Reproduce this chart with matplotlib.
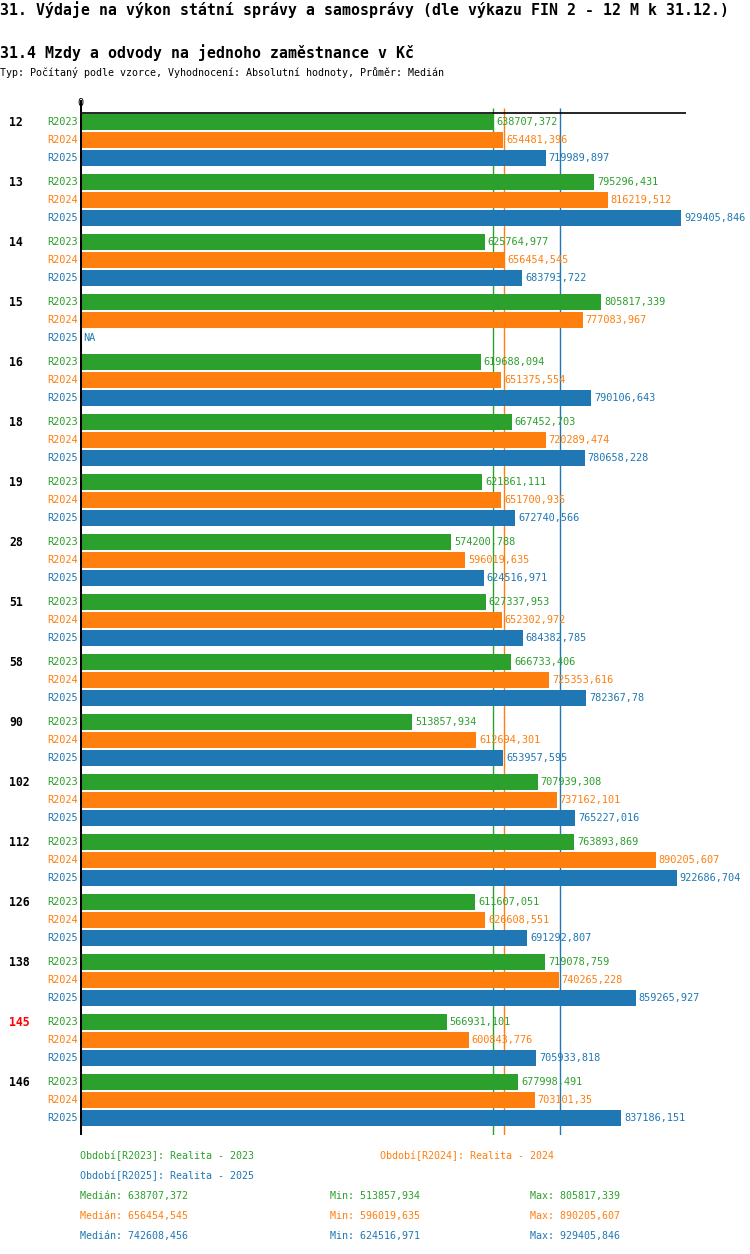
import numpy as np
import matplotlib
matplotlib.use("Agg")
import matplotlib.pyplot as plt
import matplotlib.transforms as mtransforms

# ---------------- data ----------------
groups = ["12", "13", "14", "15", "16", "18", "19", "28", "51", "58",
          "90", "102", "112", "126", "138", "145", "146"]
series = ["R2023", "R2024", "R2025"]
r2023 = [638707.372, 795296.431, 625764.977, 805817.339, 619688.094, 667452.703,
         621861.111, 574200.788, 627337.953, 666733.406, 513857.934, 707939.308,
         763893.869, 611607.051, 719078.759, 566931.101, 677998.491]
r2024 = [654481.396, 816219.512, 656454.545, 777083.967, 651375.554, 720289.474,
         651700.935, 596019.635, 652302.972, 725353.616, 612694.301, 737162.101,
         890205.607, 626608.551, 740265.228, 600843.776, 703101.35]
r2025 = [719989.897, 929405.846, 683793.722, None, 790106.643, 780658.228,
         672740.566, 624516.971, 684382.785, 782367.78, 653957.595, 765227.016,
         922686.704, 691292.807, 859265.927, 705933.818, 837186.151]
highlight_group = "145"
period_labels = ["Období[R2023]: Realita - 2023",
                 "Období[R2024]: Realita - 2024",
                 "Období[R2025]: Realita - 2025"]
medians = ["638707,372", "656454,545", "742608,456"]
median_vals = [638707.372, 656454.545, 742608.456]
mins = ["513857,934", "596019,635", "624516,971"]
maxs = ["805817,339", "890205,607", "929405,846"]
title = "31. Výdaje na výkon státní správy a samosprávy (dle výkazu FIN 2 - 12 M k 31.12.)"
subtitle = "31.4 Mzdy a odvody na jednoho zaměstnance v Kč"
info = "Typ: Počítaný podle vzorce, Vyhodnocení: Absolutní hodnoty, Průměr: Medián"

colors = ["#2ca02c", "#ff7f0e", "#1f77b4"]
values = [r2023, r2024, r2025]

# ---------------- layout ----------------
W, H = 750, 1254
FONT = "DejaVu Sans Mono"
plt.rcParams["font.family"] = [FONT, "DejaVu Sans"]
fig = plt.figure(figsize=(W / 100, H / 100), dpi=100)
fig.patch.set_facecolor("white")

px = mtransforms.Affine2D().scale(1, -1).translate(0, H)  # pixel coords, origin top-left

ax_left, ax_right = 80, 686
ax_top, ax_bot = 100, 1135
ax = fig.add_axes([ax_left / W, 1 - ax_bot / H, (ax_right - ax_left) / W, (ax_bot - ax_top) / H])
scale = 601 / 929405.846  # px per unit
ax.set_xlim(0, (ax_right - ax_left) / scale)
ax.set_ylim(ax_bot, ax_top)
ax.axis("off")

first_center, group_step, bar_step, bar_h = 122, 60, 18, 16

# median lines behind bars
for m, c in zip(median_vals, colors):
    ax.vlines(m, 108, ax_bot, color=c, lw=1, zorder=1)

ax.axhline(113, color="black", lw=1.2, zorder=3)
ax.axvline(0, color="black", lw=2.2, zorder=4)

val_off = ax.transData + mtransforms.ScaledTranslation(3 / 100, 0, fig.dpi_scale_trans)
lab_tr = mtransforms.blended_transform_factory(ax.transAxes, ax.transData) + \
    mtransforms.ScaledTranslation(-2 / 100, 0, fig.dpi_scale_trans)
grp_tr = mtransforms.blended_transform_factory(px, ax.transData)

SMALL = 7.4
for gi, g in enumerate(groups):
    gy = first_center + gi * group_step
    ax.text(9, gy, g, transform=grp_tr, ha="left", va="center", fontsize=8.3,
            fontweight="bold", color="red" if g == highlight_group else "black",
            family=FONT)
    for si, (s, vals, c) in enumerate(zip(series, values, colors)):
        y = gy + si * bar_step
        v = vals[gi]
        ax.text(0, y, s, transform=lab_tr, ha="right", va="center", fontsize=SMALL,
                color=c, family=FONT)
        if v is None:
            ax.text(0, y, "NA", transform=val_off, ha="left", va="center",
                    fontsize=SMALL, color=c, family=FONT, zorder=5)
            continue
        ax.barh(y, v, height=bar_h, color=c, zorder=2)
        ax.text(v, y, repr(v).replace(".", ","), transform=val_off, ha="left",
                va="center", fontsize=SMALL, color=c, family=FONT, zorder=5)

# zero label
fig.text(80, 103, "0", transform=px, ha="center", va="center", fontsize=SMALL,
         family=FONT)

# titles
fig.text(0, 10, title, transform=px, ha="left", va="center", fontsize=10.75,
         fontweight="bold", family=FONT)
fig.text(0, 53, subtitle, transform=px, ha="left", va="center", fontsize=10.75,
         fontweight="bold", family=FONT)
fig.text(0, 73, info, transform=px, ha="left", va="center", fontsize=7.2,
         family=FONT)

# legend / summary
fig.text(80, 1156, period_labels[0], transform=px, ha="left", va="center",
         fontsize=7.2, color=colors[0], family=FONT)
fig.text(380, 1156, period_labels[1], transform=px, ha="left", va="center",
         fontsize=7.2, color=colors[1], family=FONT)
fig.text(80, 1176, period_labels[2], transform=px, ha="left", va="center",
         fontsize=7.2, color=colors[2], family=FONT)
for i, c in enumerate(colors):
    yy = 1196 + 20 * i
    fig.text(80, yy, "Medián: " + medians[i], transform=px, ha="left", va="center",
             fontsize=7.2, color=c, family=FONT)
    fig.text(330, yy, "Min: " + mins[i], transform=px, ha="left", va="center",
             fontsize=7.2, color=c, family=FONT)
    fig.text(530, yy, "Max: " + maxs[i], transform=px, ha="left", va="center",
             fontsize=7.2, color=c, family=FONT)

fig.savefig("out.png", dpi=100, facecolor="white")
